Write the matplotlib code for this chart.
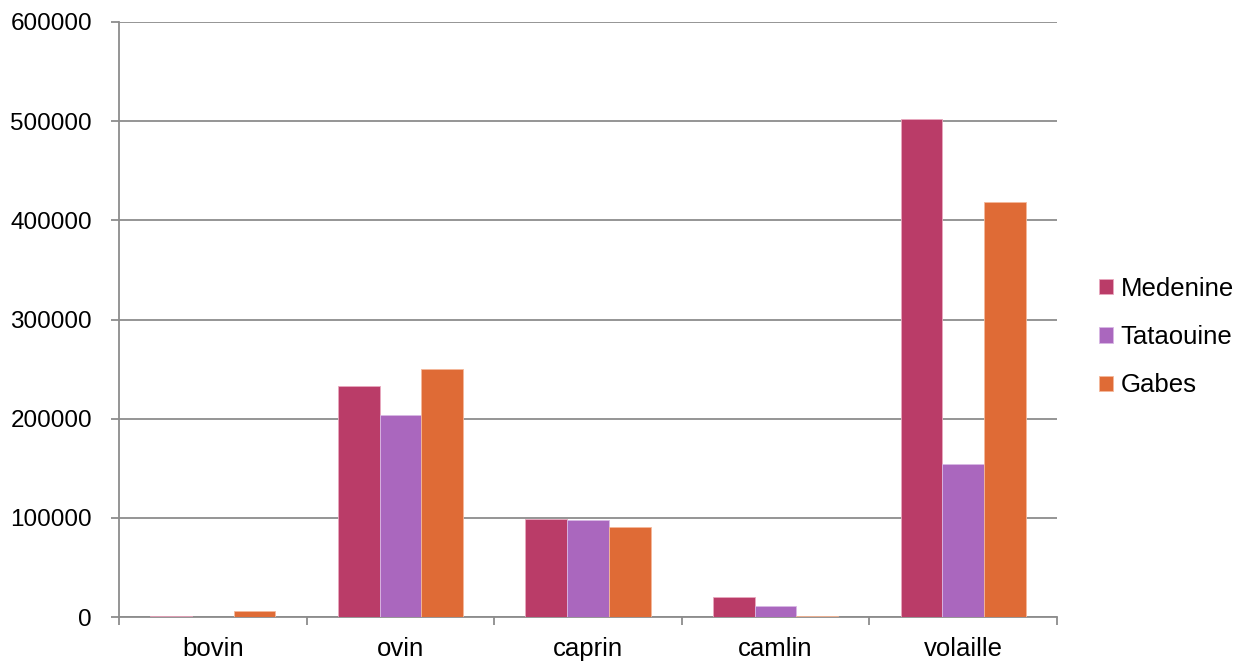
import matplotlib
matplotlib.use("Agg")
import matplotlib.pyplot as plt
import numpy as np

categories = ["bovin", "ovin", "caprin", "camlin", "volaille"]
series_names = ["Medenine", "Tataouine", "Gabes"]
medenine = [1000, 232500, 98500, 20000, 502000]
tataouine = [500, 203500, 97500, 11000, 154000]
gabes = [6000, 250500, 90500, 1000, 418000]
yticks = [0, 100000, 200000, 300000, 400000, 500000, 600000]

colors = ["#BA3C68", "#AA67BE", "#DF6B36"]
edge = ["#E8A8BE", "#D8B8E4", "#F4B89A"]

plt.rcParams['font.family'] = ['Liberation Sans', 'DejaVu Sans']

fig = plt.figure(figsize=(12.41, 6.63), dpi=100)
ax = fig.add_axes([119/1241, 1-617/663, (1057-119)/1241, (617-22)/663])

x = np.arange(len(categories))
w = 2/9
for i, (name, vals) in enumerate(zip(series_names, [medenine, tataouine, gabes])):
    ax.bar(x + (i-1)*w, vals, width=w, color=colors[i], edgecolor=edge[i],
           linewidth=0.6, label=name, zorder=3)

ax.set_xlim(-0.5, len(categories)-0.5)
ax.set_ylim(0, 600000)
ax.set_yticks(yticks)
ax.set_yticklabels([str(v) for v in yticks], fontsize=17.5)
ax.yaxis.grid(True, color="#8C8C8C", linewidth=1.3, zorder=0)
ax.set_xticks(x)
ax.set_xticklabels(categories, fontsize=18.5)
ax.tick_params(axis='x', length=0, pad=14.5)
ax.set_xticks(np.arange(-0.5, len(categories)), minor=True)
ax.tick_params(axis='x', which='minor', length=6, color="#8C8C8C", width=1.3)
ax.tick_params(axis='y', length=6, color="#8C8C8C", width=1.3, pad=13.5)
for s in ['top', 'right']:
    ax.spines[s].set_visible(False)
for s in ['left', 'bottom']:
    ax.spines[s].set_color("#8C8C8C")
    ax.spines[s].set_linewidth(1.3)

leg = fig.legend(loc='center left', bbox_to_anchor=(1099/1241, 1-337/663),
                 frameon=False, fontsize=18.5, handlelength=0.55, handleheight=0.55,
                 handletextpad=0.3, labelspacing=0.95, borderaxespad=0, borderpad=0)

fig.savefig("out.png", dpi=100)
